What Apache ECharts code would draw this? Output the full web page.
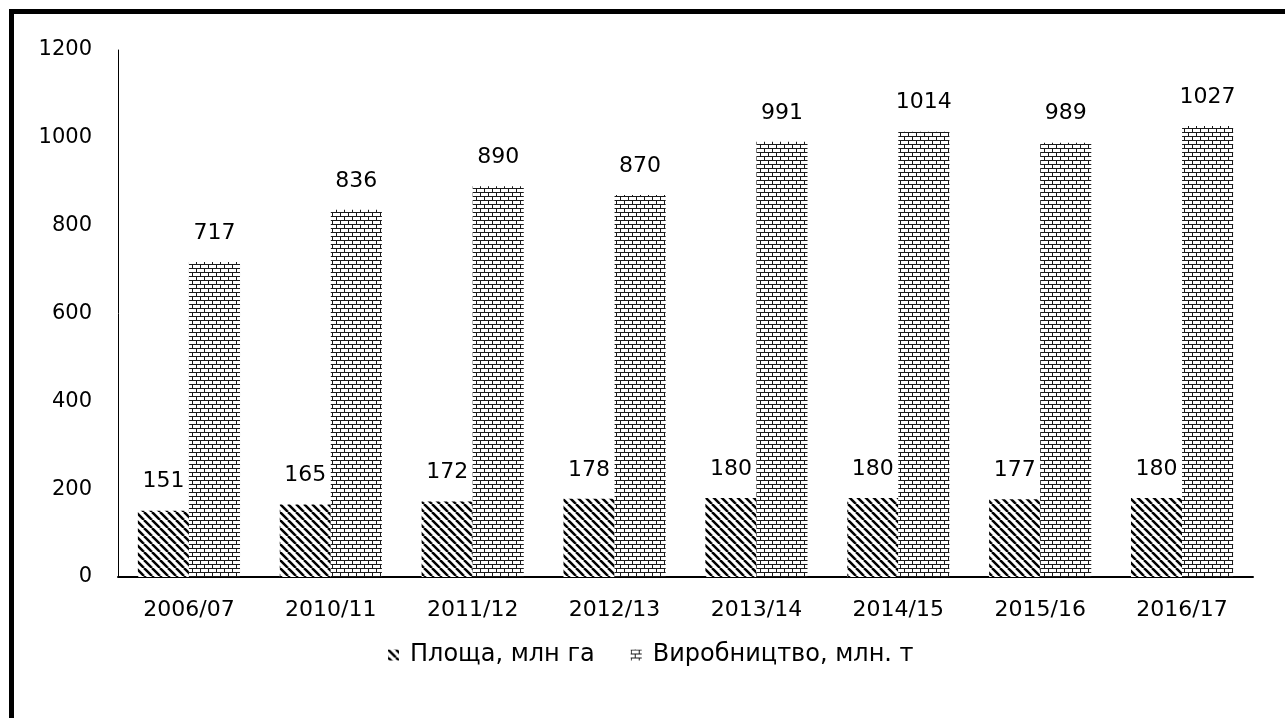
<!DOCTYPE html>
<html>
<head>
<meta charset="utf-8">
<script src="https://cdn.jsdelivr.net/npm/echarts@6/dist/echarts.min.js"></script>
<style>
  html, body { margin: 0; padding: 0; background: #fff; }
  #frame {
    position: absolute; left: 9px; top: 9px; width: 1300px; height: 720px;
    border-top: 5px solid #000; border-left: 5px solid #000;
  }
  #myChart { position: absolute; left: 0; top: 0; width: 1285px; height: 718px; }
</style>
</head>
<body>
<div id="frame"></div>
<div id="myChart"></div>
<script>
const categories = ['2006/07', '2010/11', '2011/12', '2012/13', '2013/14', '2014/15', '2015/16', '2016/17']
const areaValues = [151, 165, 172, 178, 180, 180, 177, 180]
const productionValues = [717, 836, 890, 870, 991, 1014, 989, 1027]
const yTicks = { min: 0, max: 1200, interval: 200 }

const FONT = 'DejaVu Sans'

// diagonal hatching "\\"
function hatchPattern() {
  const s = 8
  const c = document.createElement('canvas')
  c.width = s
  c.height = s
  const ctx = c.getContext('2d')
  ctx.fillStyle = '#fff'
  ctx.fillRect(0, 0, s, s)
  ctx.strokeStyle = '#000'
  ctx.lineWidth = 2.5
  for (let x0 = -s; x0 <= s; x0 += s) {
    ctx.beginPath()
    ctx.moveTo(x0, 0)
    ctx.lineTo(x0 + s, s)
    ctx.stroke()
  }
  return c
}

// brick wall
function brickPattern() {
  const c = document.createElement('canvas')
  c.width = 8
  c.height = 8
  const ctx = c.getContext('2d')
  ctx.fillStyle = '#fff'
  ctx.fillRect(0, 0, 8, 8)
  ctx.fillStyle = '#1a1a1a'
  ctx.fillRect(0, 0, 8, 1)
  ctx.fillRect(0, 4, 8, 1)
  ctx.fillRect(0, 0, 1, 4)
  ctx.fillRect(4, 4, 1, 4)
  return c
}

const labelStyle = {
  show: true,
  position: 'top',
  distance: 18,
  color: '#000',
  fontSize: 22,
  fontFamily: FONT
}

const myChart = echarts.init(document.getElementById('myChart'))
const option = {
  animation: false,
  textStyle: { fontFamily: FONT, color: '#000' },
  legend: {
    data: ['Площа, млн га', 'Виробництво, млн. т'],
    bottom: 46,
    left: 383,
    itemWidth: 11,
    itemHeight: 11,
    itemGap: 36,
    icon: 'rect',
    textStyle: { fontSize: 24, color: '#000', fontFamily: FONT, padding: [0, 0, 0, 6] }
  },
  grid: {
    left: 118,
    right: 32,
    top: 50,
    bottom: 141
  },
  xAxis: {
    type: 'category',
    data: categories,
    axisLine: { show: true, lineStyle: { color: '#000', width: 2 } },
    axisTick: { show: false },
    axisLabel: { color: '#000', fontSize: 22, margin: 22, fontFamily: FONT }
  },
  yAxis: {
    type: 'value',
    min: yTicks.min,
    max: yTicks.max,
    interval: yTicks.interval,
    axisLine: { show: true, lineStyle: { color: '#000', width: 1 } },
    axisTick: { show: false },
    splitLine: { show: false },
    axisLabel: {
      color: '#000',
      fontSize: 21,
      margin: 26,
      fontFamily: FONT,
      formatter: v => String(v)
    }
  },
  series: [
    {
      name: 'Площа, млн га',
      type: 'bar',
      data: areaValues,
      barGap: 0,
      barCategoryGap: '28%',
      itemStyle: { color: { image: hatchPattern(), repeat: 'repeat' } },
      label: labelStyle
    },
    {
      name: 'Виробництво, млн. т',
      type: 'bar',
      data: productionValues,
      itemStyle: { color: { image: brickPattern(), repeat: 'repeat' } },
      label: labelStyle
    }
  ]
}
myChart.setOption(option)
</script>
</body>
</html>
